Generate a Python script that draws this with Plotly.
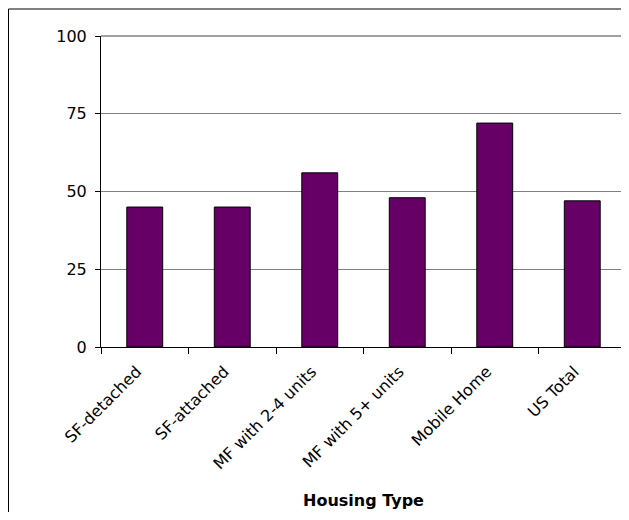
import plotly.graph_objects as go

categories = ["SF-detached", "SF-attached", "MF with 2-4 units", "MF with 5+ units", "Mobile Home", "US Total"]
values = [45, 45, 56, 48, 72, 47]
y_ticks = [0, 25, 50, 75, 100]

# page body has an 8px margin, so the figure starts at (8, 8);
# size chosen so the page does not overflow the 629x520 window
W, H = 621, 504
L, R, T = 93, 3, 28
pw, ph = 525, 311
B = H - T - ph

FAM = "DejaVu Sans, Verdana, sans-serif"
font = dict(family=FAM, size=16, color="black")

fig = go.Figure(go.Bar(
    x=categories, y=values,
    marker=dict(color="#660066", line=dict(color="black", width=1)),
    width=0.41,
))

fig.update_layout(
    width=W, height=H,
    margin=dict(l=L, r=R, t=T, b=B, pad=0),
    paper_bgcolor="white", plot_bgcolor="white",
    font=font,
    showlegend=False,
    xaxis=dict(
        type="category", tickangle=-45, tickson="boundaries",
        ticks="outside", ticklen=6, tickcolor="black", tickwidth=1,
        ticklabelstandoff=8, ticklabelshift=-8,
        showline=True, linecolor="black", linewidth=1,
        showgrid=False, tickfont=font,
    ),
    yaxis=dict(
        range=[0, 100], tickvals=y_ticks, ticks="outside", ticklen=5,
        tickcolor="black", tickwidth=1, ticklabelstandoff=5,
        showline=True, linecolor="black", linewidth=1,
        showgrid=True, gridcolor="#808080", gridwidth=1,
        zeroline=False, tickfont=font,
    ),
    shapes=[
        dict(type="line", xref="paper", yref="paper", x0=0, y0=1, x1=1, y1=1,
             line=dict(color="#808080", width=1.5)),
        dict(type="line", xref="paper", yref="paper", x0=1, y0=0, x1=1, y1=1,
             line=dict(color="#808080", width=1.5)),
        dict(type="rect", xref="paper", yref="paper",
             x0=(0.5 - L) / pw, x1=(W + 5 - L) / pw,
             y0=-(H + 20 - T - ph) / ph, y1=(ph + T - 1) / ph,
             line=dict(color="black", width=1)),
    ],
    annotations=[
        dict(text="<b>Housing Type</b>", xref="paper", yref="paper", x=0.5, y=0,
             xanchor="center", yanchor="middle", yshift=-153, showarrow=False,
             font=dict(family=FAM, size=16, color="black")),
    ],
)

fig.write_html("out.html")
